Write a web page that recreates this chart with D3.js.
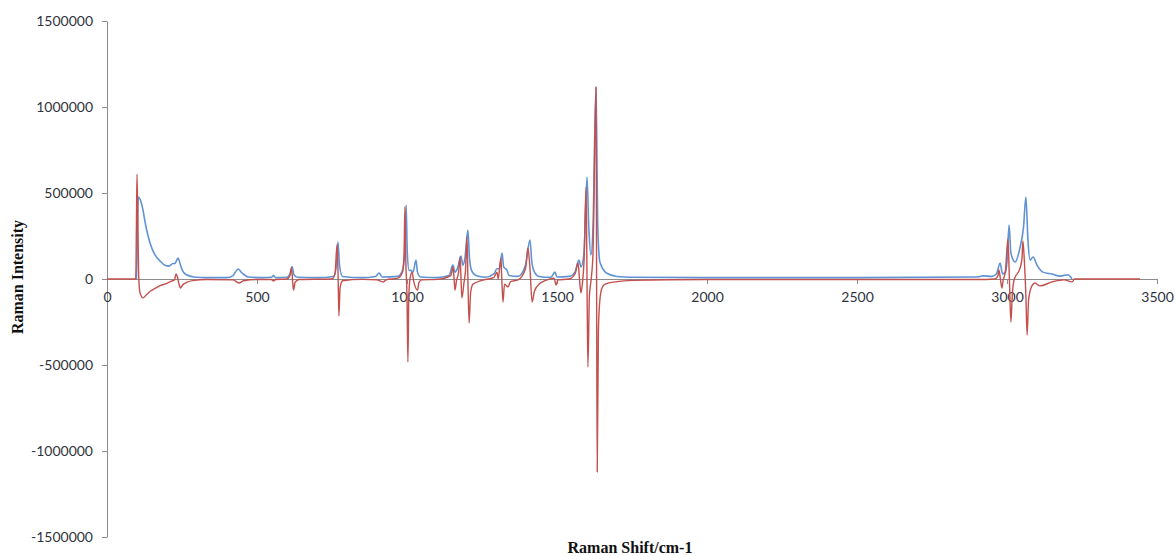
<!DOCTYPE html>
<html>
<head>
<meta charset="utf-8">
<script src="https://cdn.jsdelivr.net/npm/d3@7"></script>
<style>
  html, body { margin: 0; padding: 0; background: #fff; }
  svg { display: block; }
  .tick text { font-family: Lato, "Liberation Sans", sans-serif; font-size: 14px; fill: #2f3440; }
  .axis path, .axis line { stroke: #8c8c8c; }
</style>
</head>
<body>
<svg id="chart" width="1175" height="556"></svg>
<script>
// ---- data ----
const xTicks = [0, 500, 1000, 1500, 2000, 2500, 3000, 3500];
const yTicks = [-1500000, -1000000, -500000, 0, 500000, 1000000, 1500000];
const xTitle = "Raman Shift/cm-1";
const yTitle = "Raman Intensity";

// blue series: [Raman shift, intensity]
const blueSeries = [
  [98,0],[101,200000],[104,477000],[110,465000],[120,400000],[127,330000],[137,250000],
  [147,190000],[160,140000],[177,105000],[193,80000],[207,75000],[217,88000],[227,92000],
  [237,122000],[245,80000],[253,45000],[265,25000],[290,12000],[330,8000],[400,8000],
  [420,20000],[437,58000],[450,35000],[470,12000],[520,8000],[548,10000],[555,20000],
  [562,8000],[600,10000],[610,30000],[617,72000],[623,25000],[635,10000],[700,8000],
  [755,15000],[765,80000],[770,215000],[775,80000],[785,15000],[850,8000],[895,15000],
  [907,35000],[917,12000],[970,15000],[985,50000],[992,150000],[997,430000],[1001,150000],
  [1007,50000],[1013,50000],[1020,40000],[1030,110000],[1035,40000],[1045,12000],
  [1100,8000],[1140,20000],[1153,81000],[1160,40000],[1168,60000],[1180,134000],
  [1186,80000],[1193,120000],[1203,285000],[1208,130000],[1215,50000],[1230,20000],
  [1260,10000],[1290,30000],[1300,60000],[1308,60000],[1317,151000],[1322,70000],
  [1333,52000],[1340,20000],[1370,15000],[1395,80000],[1410,227000],[1416,100000],
  [1425,40000],[1440,15000],[1480,10000],[1493,40000],[1500,12000],[1540,15000],
  [1560,40000],[1573,110000],[1580,70000],[1590,150000],[1600,593000],[1606,300000],
  [1613,140000],[1620,300000],[1630,1116000],[1636,300000],[1643,99000],[1665,35000],
  [1700,15000],[1750,10000],[2000,8000],[2500,8000],[2900,12000],[2920,18000],
  [2950,15000],[2965,30000],[2977,93000],[2985,30000],[2995,40000],[3000,100000],
  [3007,314000],[3013,150000],[3027,99000],[3043,180000],[3055,300000],[3063,477000],
  [3070,220000],[3077,110000],[3087,128000],[3100,81000],[3120,40000],[3150,29000],
  [3177,17000],[3203,25000],[3217,0]
];

// red series: [Raman shift, intensity]
const redSeries = [
  [0,0],[96,0],[98,300000],[100,610000],[103,300000],[106,0],[110,-80000],[120,-110000],
  [130,-95000],[145,-70000],[160,-55000],[175,-40000],[200,-25000],[215,-12000],
  [225,-5000],[230,29000],[235,10000],[240,-30000],[245,-52000],[252,-35000],
  [265,-20000],[290,-8000],[330,-3000],[420,-5000],[440,-23000],[455,-10000],[500,-3000],
  [548,-3000],[555,-12000],[562,-3000],[600,0],[610,20000],[615,65000],[619,-20000],
  [622,-64000],[627,-20000],[640,-3000],[750,0],[760,30000],[767,203000],[770,50000],
  [773,-215000],[777,-50000],[785,-10000],[850,-2000],[900,-5000],[920,-17000],[930,-5000],
  [970,5000],[985,40000],[990,130000],[993,419000],[996,100000],[1000,-100000],
  [1003,-483000],[1006,-100000],[1010,0],[1017,40000],[1022,-10000],[1035,-64000],
  [1040,-20000],[1050,-5000],[1100,-2000],[1146,20000],[1153,70000],[1157,0],
  [1160,-64000],[1165,-10000],[1172,40000],[1177,128000],[1180,0],[1183,-110000],
  [1190,-20000],[1195,50000],[1200,244000],[1203,0],[1207,-256000],[1212,-80000],
  [1220,-30000],[1250,-8000],[1290,10000],[1300,40000],[1304,0],[1313,122000],
  [1316,0],[1320,-134000],[1325,-30000],[1337,-46000],[1345,-15000],[1370,-5000],
  [1395,60000],[1403,180000],[1410,60000],[1417,-134000],[1425,-70000],[1440,-30000],
  [1460,-10000],[1490,5000],[1497,-35000],[1503,-5000],[1540,0],[1560,30000],
  [1570,93000],[1575,0],[1580,-81000],[1585,-20000],[1590,100000],[1597,535000],
  [1600,0],[1603,-512000],[1608,-100000],[1614,0],[1620,150000],[1630,1116000],
  [1632,0],[1634,-1122000],[1638,-300000],[1643,-120000],[1650,-52000],[1660,-30000],
  [1700,-15000],[1750,-8000],[2000,-3000],[2900,-3000],[2960,0],[2970,20000],
  [2973,52000],[2978,0],[2983,-52000],[2987,-10000],[2995,50000],[3003,233000],
  [3008,0],[3013,-250000],[3018,-80000],[3023,-10000],[3027,10000],[3043,60000],
  [3050,120000],[3053,221000],[3058,100000],[3063,-100000],[3067,-326000],[3072,-120000],
  [3083,-40000],[3093,-23000],[3110,-40000],[3150,-17000],[3190,-5000],[3217,-17000],
  [3225,0],[3443,0]
];

// ---- drawing ----
const svg = d3.select("#chart");
const x = d3.scaleLinear().domain([0, 3500]).range([107, 1157]);
const y = d3.scaleLinear().domain([-1500000, 1500000]).range([537, 21]);
const plainFormat = d => String(d); // ASCII hyphen for negatives, as in the reference

const yAxis = d3.axisLeft(y).tickValues(yTicks).tickSize(5).tickSizeOuter(0)
  .tickPadding(9).tickFormat(plainFormat);
svg.append("g").attr("class", "axis").attr("transform", `translate(${x(0)},0)`).call(yAxis);

const xAxis = d3.axisBottom(x).tickValues(xTicks).tickSize(5).tickSizeOuter(0)
  .tickPadding(8).tickFormat(plainFormat);
svg.append("g").attr("class", "axis").attr("transform", `translate(0,${y(0)})`).call(xAxis);

const line = d3.line().x(d => x(d[0])).y(d => y(d[1])).curve(d3.curveMonotoneX);

svg.append("path").datum(blueSeries).attr("d", line)
  .attr("fill", "none").attr("stroke", "#5f93d4").attr("stroke-width", 1.6)
  .attr("stroke-linejoin", "round");
svg.append("path").datum(redSeries).attr("d", line)
  .attr("fill", "none").attr("stroke", "#c4504d").attr("stroke-width", 1.4)
  .attr("stroke-linejoin", "round");

svg.append("text").attr("x", 630).attr("y", 553).attr("text-anchor", "middle")
  .attr("font-family", "'Liberation Serif', 'Times New Roman', serif")
  .attr("font-weight", "bold").attr("font-size", 16).attr("fill", "#111").text(xTitle);

svg.append("text").attr("transform", "translate(23,277) rotate(-90)").attr("text-anchor", "middle")
  .attr("font-family", "'Liberation Serif', 'Times New Roman', serif")
  .attr("font-weight", "bold").attr("font-size", 16).attr("fill", "#111").text(yTitle);
</script>
</body>
</html>
